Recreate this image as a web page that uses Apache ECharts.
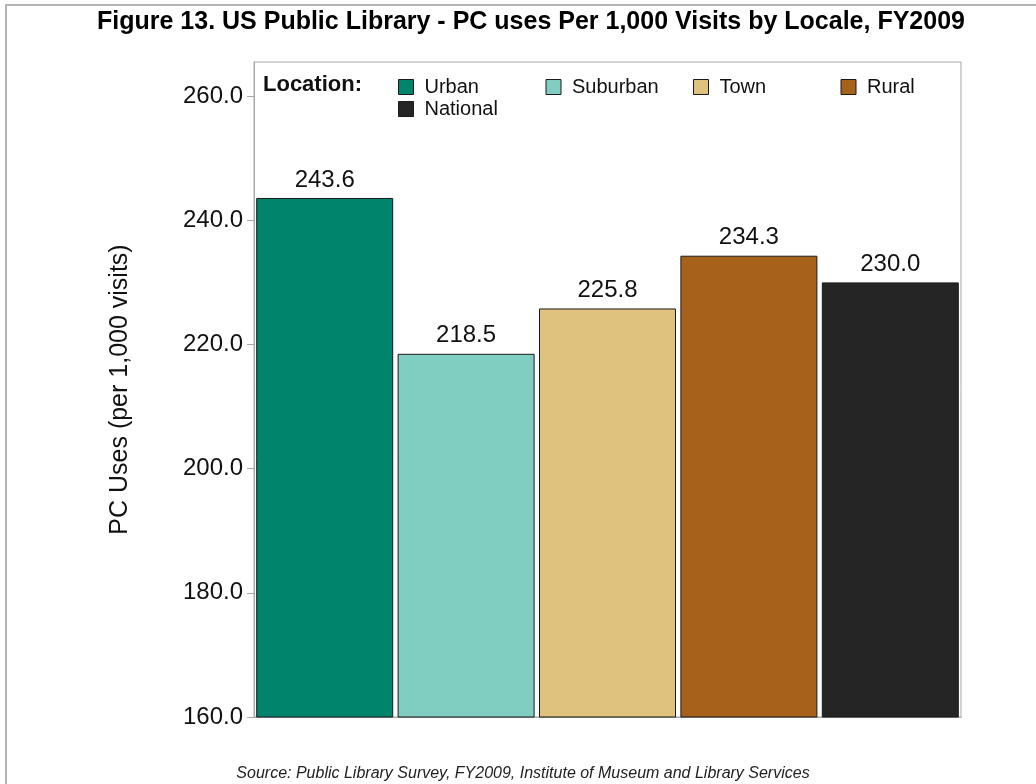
<!DOCTYPE html>
<html>
<head>
<meta charset="utf-8">
<script src="https://cdn.jsdelivr.net/npm/echarts@6/dist/echarts.min.js"></script>
<style>
html,body{margin:0;padding:0;background:#fff;}
#chart{width:1036px;height:784px;}
</style>
</head>
<body>
<div id="chart"></div>
<script>
const categories = ['Urban', 'Suburban', 'Town', 'Rural', 'National'];
const values = [243.6, 218.5, 225.8, 234.3, 230.0];
const colors = ['#00846C', '#80CDC1', '#DFC27D', '#A6611A', '#252525'];
const yTicks = [160, 180, 200, 220, 240, 260];

const FONT = '"Liberation Sans", Arial, sans-serif';

const series = categories.map((name, i) => ({
  name: name,
  type: 'bar',
  barGap: '-100%',
  barWidth: 137,
  data: categories.map((c, j) => (j === i ? values[i] : '-')),
  itemStyle: { color: colors[i], borderColor: '#1a1a1a', borderWidth: 1 },
  label: {
    show: true,
    position: 'top',
    distance: 6,
    fontFamily: FONT,
    fontSize: 24,
    color: '#111',
    formatter: p => Number(p.value).toFixed(1)
  }
}));

const legendCommon = {
  orient: 'horizontal',
  icon: 'rect',
  itemWidth: 15,
  itemHeight: 15,
  itemGap: 15,
  padding: 0,
  selectedMode: false,
  itemStyle: { borderColor: '#1a1a1a', borderWidth: 1 },
  textStyle: { fontFamily: FONT, fontSize: 20, color: '#111', width: 106, padding: [0, 0, 0, 6], lineHeight: 20 }
};

const chart = echarts.init(document.getElementById('chart'), null, { renderer: 'canvas' });
chart.setOption({
  animation: false,
  backgroundColor: '#fff',
  title: {
    text: 'Figure 13. US Public Library - PC uses Per 1,000 Visits by Locale, FY2009',
    left: 92,
    top: 5,
    textStyle: { fontFamily: FONT, fontSize: 25, fontWeight: 'bold', color: '#000' }
  },
  legend: [
    Object.assign({}, legendCommon, { data: categories.slice(0, 4), left: 398, top: 77, width: 620 }),
    Object.assign({}, legendCommon, { data: categories.slice(4), left: 398, top: 99, width: 620 })
  ],
  grid: {
    left: 254, right: 75, top: 62, bottom: 67,
    show: true, borderColor: '#a8a8a8', borderWidth: 1, backgroundColor: 'transparent'
  },
  xAxis: {
    type: 'category',
    data: categories,
    axisLine: { show: true, lineStyle: { color: '#a8a8a8' } },
    axisTick: { show: false },
    axisLabel: { show: false },
    splitLine: { show: false }
  },
  yAxis: {
    type: 'value',
    min: 160,
    max: 265.5,
    interval: 20,
    name: 'PC Uses (per 1,000 visits)',
    nameLocation: 'middle',
    nameRotate: 90,
    nameGap: 121,
    nameTextStyle: { fontFamily: FONT, fontSize: 25, color: '#111' },
    axisLine: { show: true, lineStyle: { color: '#a8a8a8' } },
    axisTick: { show: true, length: 7, lineStyle: { color: '#a8a8a8' } },
    axisLabel: {
      show: true,
      margin: 11,
      fontFamily: FONT,
      fontSize: 24,
      color: '#111',
      showMaxLabel: false,
      formatter: v => (yTicks.indexOf(v) >= 0 ? v.toFixed(1) : '')
    },
    splitLine: { show: false }
  },
  graphic: [
    {
      type: 'rect',
      shape: { x: 6, y: 5, width: 1200, height: 1000 },
      style: { fill: 'none', stroke: '#b4b4b4', lineWidth: 2 },
      silent: true
    },
    {
      type: 'text',
      left: 263,
      top: 74,
      style: { text: 'Location:', font: 'bold 22px ' + FONT, fill: '#111' }
    },
    {
      type: 'text',
      x: 523,
      y: 774,
      style: {
        text: 'Source: Public Library Survey, FY2009, Institute of Museum and Library Services',
        font: 'italic 16px ' + FONT,
        fill: '#222',
        textAlign: 'center',
        textVerticalAlign: 'middle'
      }
    }
  ],
  series: series
});
</script>
</body>
</html>
